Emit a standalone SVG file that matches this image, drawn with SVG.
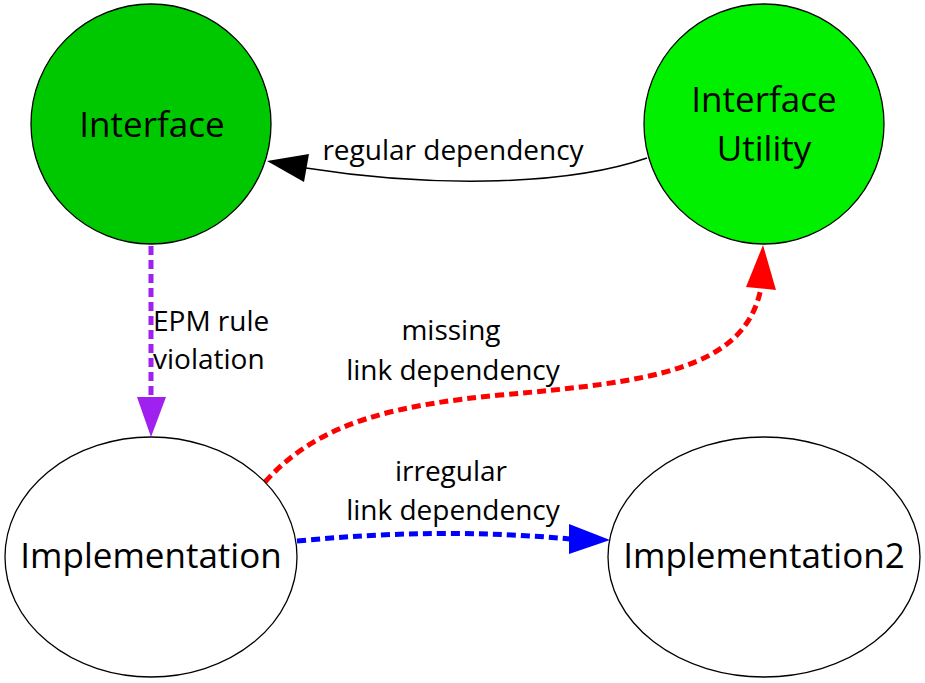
<svg xmlns="http://www.w3.org/2000/svg" width="925" height="683" viewBox="0 0 925 683">
<style>
.node{stroke:#000;stroke-width:1.3}
.nt{font-family:"Open Sans","Noto Sans",sans-serif;font-size:35px;fill:#000;text-anchor:middle}
.lt{font-family:"Open Sans","Noto Sans",sans-serif;font-size:28px;fill:#000;text-anchor:middle}
.ls{text-anchor:start}
.dash{fill:none;stroke-width:5;stroke-dasharray:9 5}
</style>
<rect width="925" height="683" fill="#fff"/>
<g id="connectors">
<g id="e-regular">
<path d="M647,158 C560,188 420,186 306,168" fill="none" stroke="#000" stroke-width="1.5"/>
<polygon points="267,161 309,154 304,182" fill="#000"/>
<text class="lt" x="453" y="160">regular dependency</text>
</g>
<g id="e-epm">
<path class="dash" d="M151,246 L151,398" stroke="#a020f0"/>
<polygon points="151,437 137,397 166,397" fill="#a020f0"/>
<text class="lt ls" x="153" y="331">EPM rule</text>
<text class="lt ls" x="153" y="369">violation</text>
</g>
<g id="e-missing">
<path class="dash" d="M265,482 C320,420 400,405 500,395 C650,382 745,370 761,288" stroke="#f00"/>
<polygon points="763,245 746,287 776,290" fill="#f00"/>
<text class="lt" x="451" y="340">missing</text>
<text class="lt" x="453" y="380">link dependency</text>
</g>
<g id="e-irregular">
<path class="dash" d="M297,541 Q440,527 570,539" stroke="#00f"/>
<polygon points="610,540 569,524 569,554" fill="#00f"/>
<text class="lt" x="451" y="481">irregular</text>
<text class="lt" x="453" y="520">link dependency</text>
</g>
</g>
<g id="n-interface">
<circle class="node" cx="151" cy="124" r="120" fill="#00c800"/>
<text class="nt" x="152" y="137">Interface</text>
</g>
<g id="n-utility">
<circle class="node" cx="764" cy="124" r="120" fill="#00f000"/>
<text class="nt" x="764" y="112">Interface</text>
<text class="nt" x="764" y="161">Utility</text>
</g>
<g id="n-impl">
<ellipse class="node" cx="151" cy="557" rx="146" ry="120" fill="#fff"/>
<text class="nt" x="151" y="568">Implementation</text>
</g>
<g id="n-impl2">
<ellipse class="node" cx="764" cy="557" rx="156" ry="120" fill="#fff"/>
<text class="nt" x="764" y="568">Implementation2</text>
</g>
</svg>
